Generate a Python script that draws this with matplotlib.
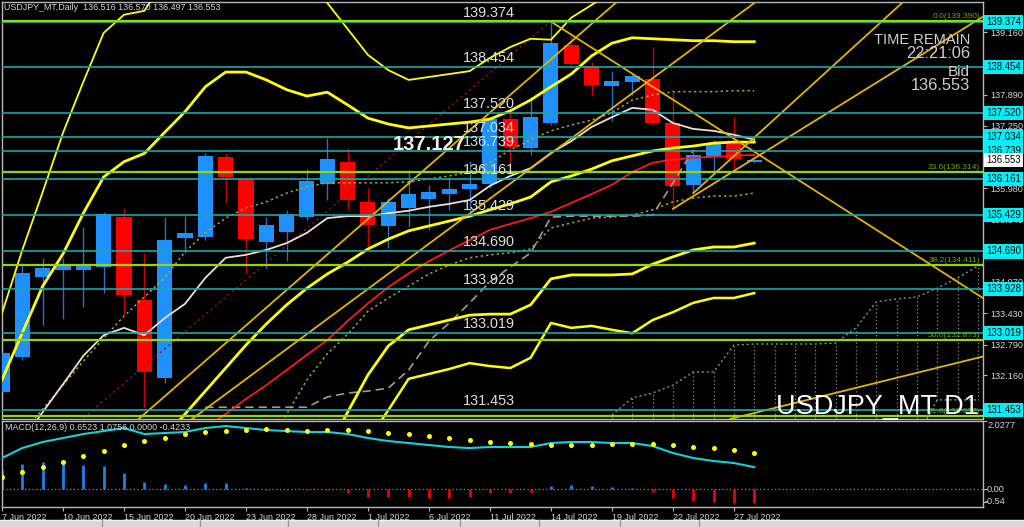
import numpy as np
import matplotlib
matplotlib.use('Agg')
import matplotlib.pyplot as plt
from matplotlib import font_manager as fm
from matplotlib.transforms import blended_transform_factory, offset_copy
from matplotlib.patches import Rectangle
from matplotlib.lines import Line2D

# ---------------- data ----------------
dates = ['7 Jun 2022', '8 Jun 2022', '9 Jun 2022', '10 Jun 2022', '13 Jun 2022', '14 Jun 2022',
         '15 Jun 2022', '16 Jun 2022', '17 Jun 2022', '20 Jun 2022', '21 Jun 2022', '22 Jun 2022',
         '23 Jun 2022', '24 Jun 2022', '27 Jun 2022', '28 Jun 2022', '29 Jun 2022', '30 Jun 2022',
         '1 Jul 2022', '4 Jul 2022', '5 Jul 2022', '6 Jul 2022', '7 Jul 2022', '8 Jul 2022',
         '11 Jul 2022', '12 Jul 2022', '13 Jul 2022', '14 Jul 2022', '15 Jul 2022', '18 Jul 2022',
         '19 Jul 2022', '20 Jul 2022', '21 Jul 2022', '22 Jul 2022', '25 Jul 2022', '26 Jul 2022',
         '27 Jul 2022', '28 Jul 2022']

open_ = [131.82, 132.54, 134.17, 134.31, 134.31, 134.37, 135.39, 133.70, 132.11, 134.96, 134.98, 136.62,
         136.17, 134.88, 135.09, 135.39, 136.07, 136.52, 135.70, 135.21, 135.58, 135.76, 135.86, 135.96,
         136.07, 137.39, 136.80, 137.31, 138.90, 138.48, 138.07, 138.15, 138.21, 137.31, 136.05, 136.62,
         136.88, 136.516]
high = [133.00, 134.45, 134.56, 134.55, 135.19, 135.49, 135.58, 134.66, 135.39, 135.41, 136.70, 136.70,
        136.21, 135.39, 135.54, 136.37, 137.01, 136.80, 135.99, 135.78, 136.35, 136.05, 136.21, 136.54,
        137.43, 137.55, 137.84, 139.38, 139.09, 138.56, 138.37, 138.31, 138.86, 137.95, 136.78, 136.97,
        137.43, 136.570]
low = [131.75, 132.47, 133.19, 133.31, 133.56, 133.84, 133.39, 131.49, 132.00, 134.65, 134.92, 135.68,
       134.25, 134.35, 134.49, 135.33, 135.74, 135.53, 134.78, 134.76, 135.19, 135.13, 135.54, 135.39,
       135.99, 136.45, 136.66, 137.27, 138.43, 137.86, 137.35, 137.88, 137.27, 135.56, 135.88, 136.31,
       136.35, 136.497]
close = [132.62, 134.25, 134.35, 134.43, 134.39, 135.45, 133.80, 132.23, 134.92, 135.07, 136.64, 136.21,
         134.94, 135.23, 135.45, 136.13, 136.58, 135.74, 135.23, 135.70, 135.86, 135.90, 135.96, 136.07,
         137.39, 136.82, 137.43, 138.95, 138.52, 138.09, 138.17, 138.27, 137.31, 136.03, 136.66, 136.90,
         136.58, 136.553]

white_ma = [130.23, 130.82, 131.41, 131.98, 132.56, 132.98, 133.13, 132.98, 133.33, 133.62, 134.15, 134.56,
            134.62, 134.72, 134.86, 135.07, 135.37, 135.41, 135.41, 135.47, 135.52, 135.60, 135.66, 135.74,
            136.03, 136.23, 136.39, 136.70, 136.94, 137.23, 137.43, 137.62, 137.58, 137.31, 137.19, 137.15,
            137.07, 136.97]
red_ma = [None] * 5 + [129.62, 129.90, 130.19, 130.49, 130.78, 131.09, 131.37, 131.68, 131.96, 132.27,
                       132.58, 132.88, 133.27, 133.63, 133.96, 134.24, 134.49, 134.71, 134.92, 135.13,
                       135.25, 135.37, 135.50, 135.68, 135.86, 136.05, 136.31, 136.50, 136.56, 136.60,
                       136.62, 136.64, 136.66]
bb_mid = [None] * 5 + [129.49, 129.96, 130.43, 130.90, 131.37, 131.84, 132.31, 132.78, 133.21, 133.60,
                       133.94, 134.23, 134.47, 134.74, 134.94, 135.11, 135.21, 135.31, 135.41, 135.54,
                       135.66, 135.80, 136.11, 136.23, 136.37, 136.54, 136.64, 136.74, 136.80, 136.84,
                       136.90, 136.92, 136.92]
bb_up2 = [132.07, 133.03, 133.98, 134.64, 135.47, 136.21, 136.52, 136.69, 137.12, 137.54, 138.05, 138.35,
          138.35, 138.19, 137.99, 137.86, 137.94, 137.68, 137.41, 137.29, 137.21, 137.25, 137.29, 137.33,
          137.39, 137.56, 137.78, 138.05, 138.31, 138.68, 138.94, 139.05, 139.03, 139.01, 138.99, 138.99,
          138.97, 138.97]
bb_up3 = [133.43, 134.72, 135.90, 137.11, 138.15, 139.15, 139.52, 139.60, 140.23, 140.64, 140.84, 140.95,
          140.95, 140.74, 140.54, 140.33, 139.76, 139.23, 138.70, 138.39, 138.19, 138.25, 138.31, 138.37,
          138.64, 138.86, 139.03, 139.01, 139.46, 139.72, 139.99, 140.13, 140.20, 140.25, 140.30, 140.30,
          140.30, 140.30]
bb_dn2 = [None] * 14 + [129.00, 129.82, 130.64, 131.41, 132.17, 132.76, 133.09, 133.19, 133.29, 133.39,
                        133.41, 133.41, 133.60, 134.13, 134.21, 134.21, 134.21, 134.23, 134.43, 134.58,
                        134.72, 134.78, 134.78, 134.86]
bb_dn3 = [None] * 16 + [129.60, 130.23, 130.84, 131.45, 132.09, 132.19, 132.29, 132.41, 132.35, 132.31,
                        132.52, 133.23, 133.13, 133.17, 133.09, 133.02, 133.29, 133.45, 133.64, 133.74,
                        133.74, 133.84]
olive_up = [130.43, 130.98, 131.47, 131.96, 132.45, 132.92, 133.37, 133.76, 134.15, 134.68, 135.07, 135.37,
            135.58, 135.70, 135.88, 136.01, 136.09, 136.09, 136.09, 136.09, 136.11, 136.17, 136.23, 136.31,
            136.50, 136.76, 136.97, 137.15, 137.27, 137.37, 137.52, 137.78, 137.88, 137.95, 137.95, 137.95,
            137.97, 137.97]
olive_dn = [None] * 13 + [130.64, 131.37, 132.07, 132.60, 133.00, 133.47, 133.74, 133.98, 134.23, 134.41,
                          134.56, 134.62, 134.66, 134.74, 135.17, 135.27, 135.37, 135.39, 135.43, 135.54,
                          135.70, 135.78, 135.82, 135.82, 135.88]
gray_dash = [None] * 10 + [131.51, 131.51, 131.51, 131.51, 131.51, 131.51, 131.72, 131.80, 131.84, 131.90,
                           132.27, 132.86, 133.23, 133.64, 134.07, 134.37, 134.66, 135.39, 135.41, 135.41,
                           135.41, 135.41, 135.43, 136.09, 136.76] + [None] * 3

cloud_bars = list(range(30, 49))
cloud_top = [131.35, 131.70, 131.80, 131.96, 132.23, 132.23, 132.78, 132.80, 132.80, 132.80, 132.80,
             132.82, 133.13, 133.66, 133.72, 133.76, 133.94, 134.15, 134.39]
cloud_bot = [130.90] * 16 + [131.66, 131.66, 131.66]

# trend lines: (bar1, price1, bar2, price2)
fan_lines = [(7, 131.37, 27, 138.61), (10, 131.47, 30, 137.61), (36, 131.29, 48, 132.52)]
ray_lines = [(27, 139.38, 47, 134.07), (33, 135.56, 47, 139.16), (34, 135.88, 44, 139.66)]
fibo_anchor = (-10, 126.36, 27, 139.39)

levels = [139.374, 138.454, 137.520, 137.034, 136.739, 136.161, 135.429, 134.690, 133.928, 133.019, 131.453]
fib_pct = [0.0, 23.6, 38.2, 50.0, 61.8]
fib_levels = [139.390, 136.314, 134.411, 132.873, 131.337]
price_ticks = [139.160, 138.520, 137.890, 137.250, 136.610, 135.980, 135.340, 134.700, 134.070,
               133.430, 132.790, 132.160, 131.520]
bid = 136.553
marker_price = 137.127

macd = [0.924, 1.222, 1.401, 1.520, 1.639, 1.728, 1.818, 1.639, 1.669, 1.699, 1.818, 1.877, 1.818, 1.758,
        1.728, 1.699, 1.699, 1.639, 1.520, 1.430, 1.371, 1.311, 1.252, 1.222, 1.252, 1.252, 1.252, 1.371,
        1.401, 1.401, 1.371, 1.371, 1.281, 1.073, 0.924, 0.834, 0.775, 0.6523]
signal = [0.358, 0.507, 0.656, 0.805, 0.983, 1.132, 1.311, 1.430, 1.520, 1.639, 1.699, 1.728, 1.758, 1.788,
          1.758, 1.728, 1.758, 1.758, 1.728, 1.669, 1.639, 1.579, 1.520, 1.460, 1.401, 1.371, 1.341, 1.311,
          1.311, 1.311, 1.341, 1.341, 1.341, 1.311, 1.252, 1.222, 1.162, 1.0756]
hist = [0.566, 0.745, 0.805, 0.805, 0.715, 0.685, 0.477, 0.209, 0.149, 0.119, 0.179, 0.179, 0.030, -0.020,
        -0.030, -0.030, -0.030, -0.119, -0.238, -0.238, -0.238, -0.268, -0.268, -0.238, -0.119, -0.119,
        -0.089, 0.089, 0.119, 0.089, 0.060, 0.030, -0.089, -0.268, -0.358, -0.387, -0.417, -0.4233]
macd_max, macd_min = 2.0277, -0.536


# ---------------- fonts ----------------
def pick(names):
    for n in names:
        try:
            fm.findfont(fm.FontProperties(family=n), fallback_to_default=False)
            return n
        except Exception:
            pass
    return 'DejaVu Sans'


NARROW = pick(['Liberation Sans Narrow', 'Arial Narrow', 'Liberation Sans'])
SANS = pick(['Liberation Sans', 'Arial', 'DejaVu Sans'])

W, H = 1024, 527
fig = plt.figure(figsize=(W / 100, H / 100), dpi=100, facecolor='black')


def fx(p):
    return p / W


def fy(p):
    return 1 - p / H


BG = 'black'
SPINE = '#b8b8b8'
TXT = '#d8d8d8'
SMALL = 6.4

# ---------------- main panel ----------------
ax = fig.add_axes([fx(2), fy(419), (983 - 2) / W, (419 - 2) / H])
ax.set_facecolor(BG)
ax.set_xlim(0, 48.25)
ax.set_ylim(131.27, 139.78)
for s in ax.spines.values():
    s.set_color(SPINE)
    s.set_linewidth(1)

x = np.arange(len(close))
o = np.array(open_); c = np.array(close); h = np.array(high); l = np.array(low)
up = c >= o
ax.vlines(x[up], l[up], h[up], color='#2a6fc0', lw=1, zorder=2)
ax.vlines(x[~up], l[~up], h[~up], color='#c80000', lw=1, zorder=2)
ax.bar(x[up], np.maximum(c[up] - o[up], 0.02), bottom=o[up], width=0.74, color='#1e90ff', lw=0, zorder=3)
ax.bar(x[~up], o[~up] - c[~up], bottom=c[~up], width=0.74, color='#ff0000', lw=0, zorder=3)

arr = lambda v: np.array(v, dtype=float)
# cloud
cb = np.array(cloud_bars)
ax.vlines(cb, arr(cloud_bot), arr(cloud_top), colors='#8c8c8c', linestyles=(0, (1, 2)), lw=0.9, zorder=4)
ax.plot(cb, cloud_top, color='#8c8c8c', ls=(0, (1.5, 2)), lw=1.0, zorder=4)
ax.plot(cb, cloud_bot, color='#8c8c8c', ls=(0, (1.5, 2)), lw=1.0, zorder=4)

# fibo trend
ax.plot([fibo_anchor[0], fibo_anchor[2]], [fibo_anchor[1], fibo_anchor[3]], color='#a01515',
        ls=(0, (1.5, 2.5)), lw=1.0, zorder=4)

# indicators
ax.plot(x, arr(gray_dash), color='#a89a8a', ls=(0, (5, 3)), lw=1.2, zorder=4)
ax.plot(x, arr(olive_up), color='#a8a820', ls=(0, (1.5, 2)), lw=1.1, zorder=4)
ax.plot(x, arr(olive_dn), color='#a8a820', ls=(0, (1.5, 2)), lw=1.1, zorder=4)
ax.plot(x, arr(white_ma), color='#f2dcd2', lw=1.3, zorder=5)
ax.plot(x, arr(red_ma), color='#ff1a1a', lw=1.3, zorder=5)
for series, lw in [(bb_mid, 2.0), (bb_up2, 2.0), (bb_dn2, 2.0), (bb_dn3, 1.8), (bb_up3, 1.3)]:
    ax.plot(x, arr(series), color='#ffff00', lw=lw, zorder=5, solid_joinstyle='round')

GOLD = '#e2b400'
for (x1, p1, x2, p2) in fan_lines:
    ax.axline((x1, p1), (x2, p2), color=GOLD, lw=1.3, zorder=5)
for (x1, p1, x2, p2) in ray_lines:
    xe = 60
    pe = p1 + (p2 - p1) / (x2 - x1) * (xe - x1)
    ax.plot([x1, xe], [p1, pe], color=GOLD, lw=1.3, zorder=5)

# horizontal levels
for lev in levels:
    ax.axhline(lev, color='#1aa8a8', lw=1.2, zorder=6)
for f in fib_levels:
    ax.axhline(f, color='#94d800', lw=1.6, zorder=6)

# right price axis
ax.yaxis.tick_right()
ax.set_yticks(price_ticks)
ax.set_yticklabels([f'{t:.3f}' for t in price_ticks])
ax.tick_params(axis='y', colors=SPINE, labelcolor=TXT, labelsize=6.6, length=3, pad=2)
for t in ax.get_yticklabels():
    t.set_fontfamily(NARROW)
ax.set_xticks([])

tr_right = blended_transform_factory(ax.transAxes, ax.transData)
for lev in levels:
    ax.text(1.003, lev, f'{lev:.3f}', transform=tr_right, ha='left', va='center', fontsize=6.9,
            family=NARROW, color='black', clip_on=False, zorder=20,
            bbox=dict(boxstyle='square,pad=0.22', fc='#00f0f8', ec='none'))
ax.text(1.003, bid, f'{bid:.3f}', transform=tr_right, ha='left', va='center', fontsize=6.9,
        family=NARROW, color='black', clip_on=False, zorder=20,
        bbox=dict(boxstyle='square,pad=0.22', fc='white', ec='none'))

# fib labels
tr_fig_data = blended_transform_factory(fig.transFigure, ax.transData)
fib_tr = offset_copy(tr_fig_data, fig=fig, x=0, y=1, units='dots')
for p, f in zip(fib_pct, fib_levels):
    ax.text(fx(980), f, f'{p:.1f}({f:.3f})', transform=fib_tr, ha='right', va='bottom', fontsize=6,
            family=NARROW, color='#6aa800', zorder=8, clip_on=False)

# level labels in chart
lab_tr = offset_copy(tr_fig_data, fig=fig, x=0, y=2, units='dots')
for lev in levels:
    ax.text(fx(463), lev, f'{lev:.3f}', transform=lab_tr, ha='left', va='bottom', fontsize=10.4,
            family=NARROW, color='#dedede', zorder=9)

fig.text(fx(466), fy(144), f'{marker_price:.3f}', ha='right', va='center', fontsize=14.5, weight='bold',
         family=SANS, color='#f3eee2', zorder=10)

# header texts
fig.text(fx(4), fy(7), 'USDJPY_MT,Daily  136.516 136.570 136.497 136.553', ha='left', va='center',
         fontsize=SMALL, family=NARROW, color=TXT)
fig.text(fx(970), fy(40), 'TIME REMAIN', ha='right', va='center', fontsize=10.5, family=NARROW, color='#cfcfcf')
fig.text(fx(970), fy(53.5), '22:21:06', ha='right', va='center', fontsize=11.8, family=NARROW, color='#cfcfcf')
fig.text(fx(970), fy(72.5), 'Bid', ha='right', va='center', fontsize=11, family=NARROW, color='#cfcfcf')
fig.text(fx(970), fy(86), f'{bid:.3f}', ha='right', va='center', fontsize=11.8, family=NARROW, color='#cfcfcf')
fig.text(fx(979), fy(414), 'USDJPY_MT D1', ha='right', va='baseline', fontsize=19.5, family=NARROW,
         color='white', zorder=12)

# ---------------- MACD panel ----------------
ax2 = fig.add_axes([fx(2), fy(507), (983 - 2) / W, (507 - 421) / H])
ax2.set_facecolor(BG)
ax2.set_xlim(0, 48.25)
ax2.set_ylim(macd_min, macd_max)
for s in ax2.spines.values():
    s.set_color(SPINE)
    s.set_linewidth(1)
hv = np.array(hist)
pos = hv >= 0
ax2.axhline(0, color='#8a8a8a', ls=(0, (1, 2)), lw=0.9, zorder=1)
ax2.vlines(x[pos], 0, hv[pos], color='#1f80e8', lw=2, zorder=2)
ax2.vlines(x[~pos], 0, hv[~pos], color='#ee0000', lw=2, zorder=2)
ax2.plot(x, macd, color='#12d2d8', lw=1.5, zorder=3)
ax2.scatter(x, signal, s=13, color='#ffff00', lw=0, zorder=4)
ax2.text(0.003, 0.93, 'MACD(12,26,9) 0.6523 1.0756 0.0000 -0.4233', transform=ax2.transAxes, ha='left',
         va='center', fontsize=SMALL, family=NARROW, color=TXT, zorder=5)
ax2.yaxis.tick_right()
ax2.set_yticks([macd_max, 0.0, -0.40])
ax2.set_yticklabels(['', '', ''])
ax2.tick_params(axis='y', colors=SPINE, length=3)
fig.text(fx(987), fy(426), '2.0277', ha='left', va='center', fontsize=6.6, family=NARROW, color=TXT)
fig.text(fx(987), fy(489), '0.00', ha='left', va='center', fontsize=6.6, family=NARROW, color=TXT)
fig.text(fx(985), fy(502), '-0.54', ha='left', va='center', fontsize=6.6, family=NARROW, color=TXT)

ax2.set_xticks(x[::3])
ax2.set_xticklabels(dates[::3])
ax2.tick_params(axis='x', colors=SPINE, labelcolor=TXT, labelsize=SMALL, length=3, pad=1.5)
for t in ax2.get_xticklabels():
    t.set_ha('left')
    t.set_fontfamily(NARROW)

# bottom tab strip
fig.add_artist(Rectangle((0, 0), 1, 7 / H, transform=fig.transFigure, fc='#d9d9d9', ec='none'))
fig.add_artist(Line2D([0, 1], [fy(520), fy(520)], transform=fig.transFigure, color='#f0f0f0', lw=1))
for sx in [102, 200, 288, 378, 460, 539, 620, 699]:
    fig.add_artist(Line2D([fx(sx), fx(sx)], [0, 7 / H], transform=fig.transFigure, color='#9a9a9a', lw=1))

fig.savefig('out.png', dpi=100, facecolor='black')
